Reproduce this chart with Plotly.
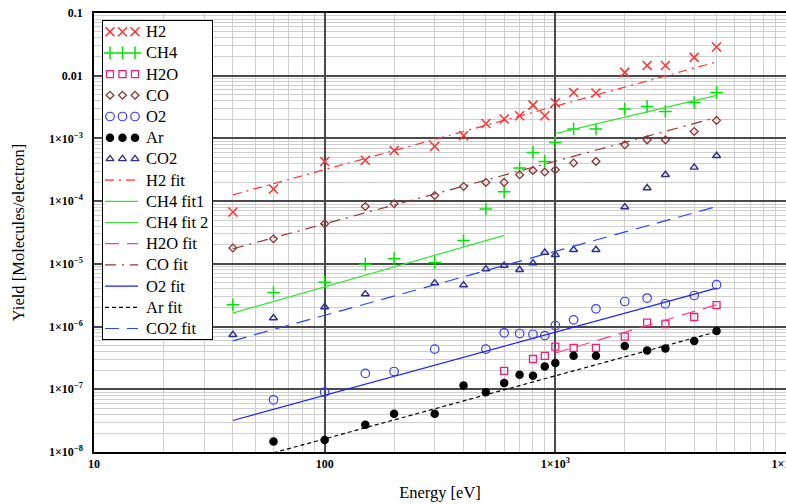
import plotly.graph_objects as go

# ---------------- data ----------------
E20 = [40, 60, 100, 150, 200, 300, 400, 500, 600, 700, 800, 900, 1000,
       1200, 1500, 2000, 2500, 3000, 4000, 5000]

E_H2 = E20
Y_H2 = [6.7e-5, 1.56e-4, 4.3e-4, 4.5e-4, 6.4e-4, 7.5e-4, 1.1e-3, 1.73e-3,
        2.04e-3, 2.3e-3, 3.4e-3, 2.3e-3, 3.7e-3, 5.4e-3, 5.3e-3, 0.0113,
        0.0145, 0.0145, 0.0196, 0.0287]

E_CH4 = E20
Y_CH4 = [2.23e-6, 3.5e-6, 5.1e-6, 9.9e-6, 1.21e-5, 1.05e-5, 2.36e-5, 7.5e-5,
         1.41e-4, 3.37e-4, 5.98e-4, 4.3e-4, 8.6e-4, 1.41e-3, 1.41e-3, 2.94e-3,
         3.24e-3, 2.7e-3, 3.75e-3, 5.42e-3]

E_H2O = [600, 800, 900, 1000, 1200, 1500, 2000, 2500, 3000, 4000, 5000]
Y_H2O = [1.97e-7, 3.04e-7, 3.42e-7, 4.8e-7, 4.56e-7, 4.56e-7, 6.9e-7,
         1.16e-6, 1.1e-6, 1.42e-6, 2.2e-6]

E_CO = E20
Y_CO = [1.79e-5, 2.51e-5, 4.36e-5, 8.2e-5, 9.1e-5, 1.23e-4, 1.71e-4, 1.99e-4,
        1.99e-4, 2.64e-4, 3.09e-4, 2.91e-4, 3.17e-4, 4.05e-4, 4.3e-4, 7.94e-4,
        9.5e-4, 9.5e-4, 1.29e-3, 1.94e-3]

E_O2 = [60, 100, 150, 200, 300, 500, 600, 700, 800, 900, 1000, 1200, 1500,
        2000, 2500, 3000, 4000, 5000]
Y_O2 = [6.8e-8, 9.0e-8, 1.79e-7, 1.92e-7, 4.38e-7, 4.38e-7, 7.96e-7, 7.76e-7,
        7.54e-7, 7.18e-7, 1.04e-6, 1.28e-6, 1.92e-6, 2.51e-6, 2.85e-6,
        2.31e-6, 3.13e-6, 4.65e-6]

E_AR = [60, 100, 150, 200, 300, 400, 500, 600, 700, 800, 900, 1000, 1200,
        1500, 2000, 2500, 3000, 4000, 5000]
Y_AR = [1.47e-8, 1.56e-8, 2.71e-8, 4.07e-8, 4.07e-8, 1.15e-7, 9.0e-8, 1.26e-7,
        1.70e-7, 1.64e-7, 2.31e-7, 2.62e-7, 3.42e-7, 3.42e-7, 4.89e-7,
        4.16e-7, 4.48e-7, 5.87e-7, 8.5e-7]

E_CO2 = [40, 60, 100, 150, 300, 400, 500, 600, 700, 800, 900, 1000, 1200,
         1500, 2000, 2500, 3000, 4000, 5000]
Y_CO2 = [7.4e-7, 1.37e-6, 2.05e-6, 3.3e-6, 4.94e-6, 4.59e-6, 8.26e-6, 9.4e-6,
         8.05e-6, 1.03e-5, 1.52e-5, 1.40e-5, 1.68e-5, 1.68e-5, 8.05e-5,
         1.62e-4, 2.64e-4, 3.45e-4, 5.3e-4]

# fit lines (end points)
FIT_H2_E, FIT_H2_Y = [40, 5000], [1.26e-4, 1.66e-2]
FIT_CH4A_E, FIT_CH4A_Y = [40, 600], [1.64e-6, 2.84e-5]
FIT_CH4B_E, FIT_CH4B_Y = [1000, 5000], [1.19e-3, 4.85e-3]
FIT_H2O_E, FIT_H2O_Y = [1000, 5000], [3.78e-7, 2.23e-6]
FIT_CO_E, FIT_CO_Y = [40, 5000], [1.74e-5, 2.16e-3]
FIT_O2_E, FIT_O2_Y = [40, 5000], [3.18e-8, 4.11e-6]
FIT_AR_E, FIT_AR_Y = [60, 5000], [9.7e-9, 8.26e-7]
FIT_CO2_E, FIT_CO2_Y = [40, 5000], [5.93e-7, 8.2e-5]

X_TICKS = [10, 100, 1000, 10000]
X_TICKTEXT = ["10", "100", "1×10<sup>3</sup>", "1×10<sup>4</sup>"]
Y_TICKS = [1e-8, 1e-7, 1e-6, 1e-5, 1e-4, 1e-3, 1e-2, 1e-1]
Y_TICKTEXT = ["1×10<sup>−8</sup>", "1×10<sup>−7</sup>", "1×10<sup>−6</sup>",
              "1×10<sup>−5</sup>", "1×10<sup>−4</sup>", "1×10<sup>−3</sup>",
              "0.01", "0.1"]

# ---------------- styles ----------------
SERIF = "Liberation Serif, Times New Roman, serif"

POINT_SERIES = [
    ("H2", E_H2, Y_H2, dict(symbol="x-thin", size=9, color="#ff3030",
                            line=dict(width=1.5, color="#ff3030"))),
    ("CH4", E_CH4, Y_CH4, dict(symbol="cross-thin", size=9, color="#00e600",
                               line=dict(width=1.5, color="#00e600"))),
    ("H2O", E_H2O, Y_H2O, dict(symbol="square-open", size=7, color="#f0207a",
                               line=dict(width=1.3, color="#f0207a"))),
    ("CO", E_CO, Y_CO, dict(symbol="diamond-open", size=6, color="#8b3535",
                            line=dict(width=1.3, color="#8b3535"))),
    ("O2", E_O2, Y_O2, dict(symbol="circle-open", size=8.5, color="#3a3aff",
                            line=dict(width=1.2, color="#3a3aff"))),
    ("Ar", E_AR, Y_AR, dict(symbol="circle", size=8.5, color="#000000",
                            line=dict(width=0, color="#000000"))),
    ("CO2", E_CO2, Y_CO2, dict(symbol="triangle-up-open", size=7,
                               color="#2f2f8f",
                               line=dict(width=1.4, color="#2f2f8f"))),
]

FIT_SERIES = [
    ("H2 fit", FIT_H2_E, FIT_H2_Y, dict(color="#ff3030", dash="9px,5px,2px,5px", width=1.2)),
    ("CH4 fit1", FIT_CH4A_E, FIT_CH4A_Y, dict(color="#30e830", dash="solid", width=1.2)),
    ("CH4 fit 2", FIT_CH4B_E, FIT_CH4B_Y, dict(color="#30e830", dash="solid", width=1.2)),
    ("H2O fit", FIT_H2O_E, FIT_H2O_Y, dict(color="#ff3f90", dash="14px,8px", width=1.2)),
    ("CO fit", FIT_CO_E, FIT_CO_Y, dict(color="#993333", dash="11px,6px,2px,6px", width=1.2)),
    ("O2 fit", FIT_O2_E, FIT_O2_Y, dict(color="#1f1fff", dash="solid", width=1.2)),
    ("Ar fit", FIT_AR_E, FIT_AR_Y, dict(color="#000000", dash="4px,3px", width=1.2)),
    ("CO2 fit", FIT_CO2_E, FIT_CO2_Y, dict(color="#2a45ff", dash="14px,8px", width=1.2)),
]

# legend box geometry (in legend-axis pixel units)
LEG_W, LEG_H = 109, 318
ROW0, ROW_STEP = 11, 21.2
SAMPLE_MARK_X = [7, 19.5, 32]
SAMPLE_LINE_X = [2, 35]
TEXT_X = 41

fig = go.Figure()

for name, x, y, mk in POINT_SERIES:
    fig.add_trace(go.Scatter(x=x, y=y, mode="markers", name=name,
                             marker=mk, showlegend=False))
for name, x, y, ln in FIT_SERIES:
    fig.add_trace(go.Scatter(x=x, y=y, mode="lines", name=name,
                             line=ln, showlegend=False))

# hand-drawn legend (three markers per entry like the original)
annotations = []
row = 0
for name, _, _, mk in POINT_SERIES:
    ry = ROW0 + ROW_STEP * row
    fig.add_trace(go.Scatter(x=SAMPLE_MARK_X, y=[ry] * 3, mode="markers",
                             marker=mk, xaxis="x2", yaxis="y2",
                             showlegend=False, hoverinfo="skip"))
    annotations.append(dict(x=TEXT_X, y=ry, xref="x2", yref="y2", text=name,
                            showarrow=False, xanchor="left", yanchor="middle",
                            font=dict(family=SERIF, size=16.5, color="#000")))
    row += 1
for name, _, _, ln in FIT_SERIES:
    ry = ROW0 + ROW_STEP * row
    fig.add_trace(go.Scatter(x=SAMPLE_LINE_X, y=[ry] * 2, mode="lines",
                             line=ln, xaxis="x2", yaxis="y2",
                             showlegend=False, hoverinfo="skip"))
    annotations.append(dict(x=TEXT_X, y=ry, xref="x2", yref="y2", text=name,
                            showarrow=False, xanchor="left", yanchor="middle",
                            font=dict(family=SERIF, size=16.5, color="#000")))
    row += 1

axis_common = dict(
    type="log",
    showgrid=True, gridcolor="#4a4a4a", gridwidth=1.5,
    minor=dict(dtick="D1", showgrid=True, gridcolor="#cfcfcf", gridwidth=1),
    showline=True, linecolor="#000000", linewidth=1.5,
    zeroline=False,
    tickmode="array",
    tickfont=dict(family=SERIF, size=12, color="#000000", weight="bold"),
    title_font=dict(family=SERIF, size=16.5, color="#000000"),
)

# plot area: x 94..786 px, y 13..452 px
L, T, PW, PH = 94, 13, 692, 439
leg_x0 = (103 - L) / PW
leg_x1 = (103 + LEG_W - L) / PW
leg_y1 = (T + PH - 20.7) / PH
leg_y0 = (T + PH - 20.7 - LEG_H) / PH

fig.update_layout(
    width=786, height=504,
    margin=dict(l=L, r=0, t=T, b=504 - T - PH),
    paper_bgcolor="white", plot_bgcolor="white",
    showlegend=False,
    xaxis=dict(axis_common, range=[1, 4], tickvals=X_TICKS,
               ticktext=X_TICKTEXT, mirror=True, automargin=False,
               ticklabeloverflow="allow",
               title=dict(text="Energy [eV]", standoff=16)),
    yaxis=dict(axis_common, range=[-8, -1], tickvals=Y_TICKS,
               ticktext=Y_TICKTEXT, mirror=False, automargin=False,
               ticklabelstandoff=7,
               title=dict(text="Yield [Molecules/electron]", standoff=20)),
    xaxis2=dict(domain=[leg_x0, leg_x1], range=[0, LEG_W], anchor="y2",
                showgrid=False, zeroline=False, showticklabels=False,
                ticks="", showline=True, mirror=True, linecolor="#000",
                linewidth=1.2, fixedrange=True),
    yaxis2=dict(domain=[leg_y0, leg_y1], range=[LEG_H, 0], anchor="x2",
                showgrid=False, zeroline=False, showticklabels=False,
                ticks="", showline=True, mirror=True, linecolor="#000",
                linewidth=1.2, fixedrange=True),
    shapes=[dict(type="rect", xref="x2", yref="y2", x0=0, x1=LEG_W,
                 y0=0, y1=LEG_H, fillcolor="white", line=dict(width=0),
                 layer="between")],
    annotations=annotations,
)

fig.write_html("out.html")
